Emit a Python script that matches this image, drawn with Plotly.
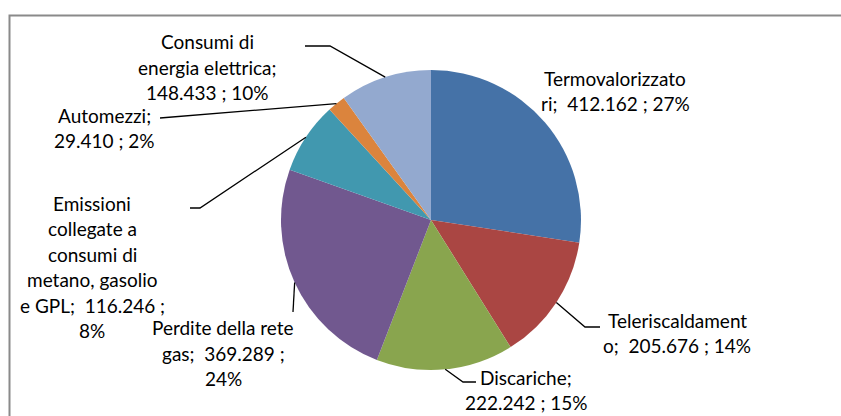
import math
import plotly.graph_objects as go

# ---- data ----
categories = [
    "Termovalorizzatori",
    "Teleriscaldamento",
    "Discariche",
    "Perdite della rete gas",
    "Emissioni collegate a consumi di metano, gasolio e GPL",
    "Automezzi",
    "Consumi di energia elettrica",
]
values = [412162, 205676, 222242, 369289, 116246, 29410, 148433]
value_labels = ["412.162", "205.676", "222.242", "369.289", "116.246", "29.410", "148.433"]
pct_labels = ["27%", "14%", "15%", "24%", "8%", "2%", "10%"]
colors = ["#4572A7", "#AA4643", "#89A54E", "#71588F", "#4198AF", "#DB843D", "#93A9CF"]

# label text split into lines (as wrapped in the original)
label_lines = [
    ["Termovalorizzato", "ri;  412.162 ; 27%"],
    ["Teleriscaldament", "o;  205.676 ; 14%"],
    ["Discariche;", "222.242 ; 15%"],
    ["Perdite della rete", "gas;  369.289 ;", "24%"],
    ["Emissioni", "collegate a", "consumi di", "metano, gasolio", "e GPL;  116.246 ;", "8%"],
    ["Automezzi;", "29.410 ; 2%"],
    ["Consumi di", "energia elettrica;", "148.433 ; 10%"],
]

# ---- layout (pixels) ----
W, H = 841, 416
CX, CY, R = 431, 220, 150
LINE_H = 25.5
label_centers = [(615, 91), (677, 333), (526, 390), (223, 353), (92, 267), (104, 128), (207, 67)]
# elbow / end points of leader lines (None = no leader)
leader_paths = [
    None,
    [(585, 327), (600, 327)],
    [(463, 382), (476, 382)],
    [(293, 312)],
    [(200, 208), (190, 208)],
    [(160, 118)],
    [(330, 46), (305, 46)],
]

def px(x):
    return x / W

def py(y):
    return 1 - y / H

fig = go.Figure(
    go.Pie(
        labels=categories,
        values=values,
        sort=False,
        direction="clockwise",
        rotation=0,
        marker=dict(colors=colors, line=dict(width=0)),
        textinfo="none",
        hoverinfo="label+value+percent",
        showlegend=False,
        domain=dict(x=[px(CX - R), px(CX + R)], y=[py(CY + R), py(CY - R)]),
    )
)

FONT = dict(family="Lato, Open Sans, sans-serif", size=19, color="#000000")

annotations = []
for lines, (cx, cy) in zip(label_lines, label_centers):
    n = len(lines)
    for i, t in enumerate(lines):
        y = cy + (i - (n - 1) / 2) * LINE_H
        annotations.append(
            dict(
                x=px(cx), y=py(y), xref="paper", yref="paper",
                text=t, showarrow=False, xanchor="center", yanchor="middle",
                font=FONT,
            )
        )

shapes = []
total = sum(values)
cum = 0
for v, path in zip(values, leader_paths):
    mid = (cum + v / 2) / total
    cum += v
    if path is None:
        continue
    ang = 2 * math.pi * mid
    sx = CX + R * math.sin(ang)
    sy = CY - R * math.cos(ang)
    pts = [(sx, sy)] + path
    d = "M " + " L ".join(f"{px(x):.5f},{py(y):.5f}" for x, y in pts)
    shapes.append(dict(type="path", path=d, xref="paper", yref="paper",
                       line=dict(color="#000000", width=1.3)))

# chart frame (only top and left edges are visible in the cropped original)
frame = f"M {px(9.5):.5f},0 L {px(9.5):.5f},{py(15.5):.5f} L 1,{py(15.5):.5f}"
shapes.append(dict(type="path", path=frame, xref="paper", yref="paper",
                   line=dict(color="#8a8a8a", width=2)))

fig.update_layout(
    width=W, height=H,
    margin=dict(l=0, r=0, t=0, b=0),
    paper_bgcolor="white",
    plot_bgcolor="white",
    annotations=annotations,
    shapes=shapes,
)

fig.write_html(
    "out.html",
    config={"displayModeBar": False},
    post_script="document.body.style.margin='0';document.body.style.overflow='hidden';",
)
